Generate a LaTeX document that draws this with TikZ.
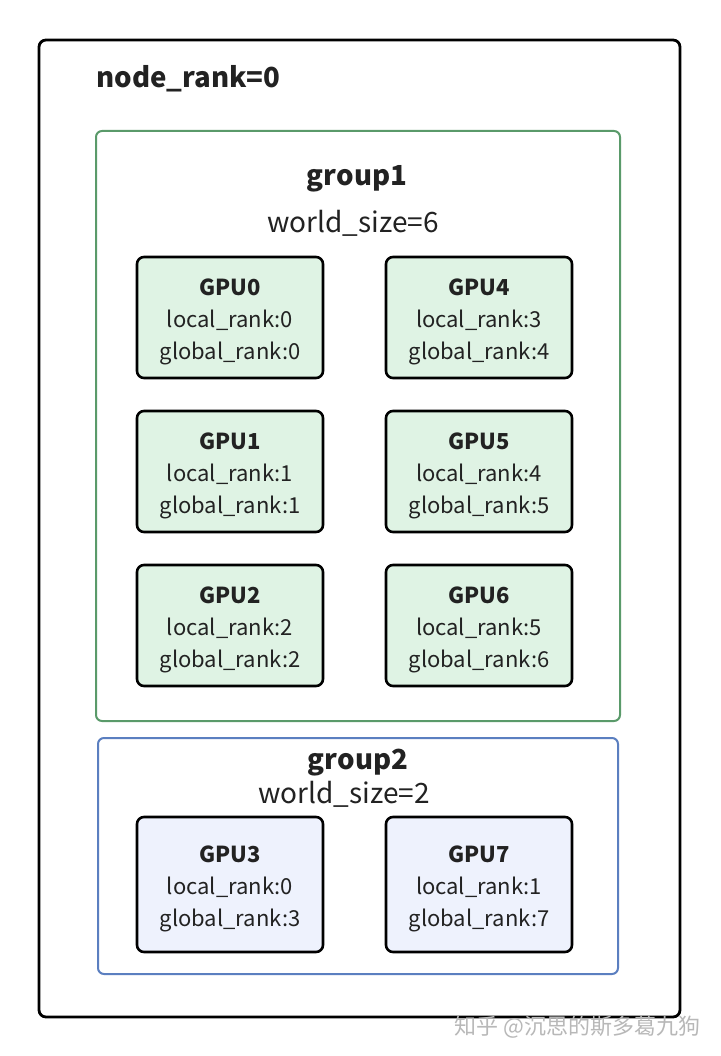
\documentclass[tikz,border=0pt]{standalone}
\usepackage{fontspec}
\setmainfont{Noto Sans CJK SC}
\usetikzlibrary{positioning}
\definecolor{txt}{HTML}{222222}
\definecolor{gline}{HTML}{5A9A6A}
\definecolor{gfill}{HTML}{DFF3E4}
\definecolor{bline}{HTML}{5B7FC0}
\definecolor{bfill}{HTML}{EEF2FD}
\tikzset{
  outerbox/.style={draw=black, line width=2.8pt, rounded corners=7pt},
  grpbox/.style={line width=2pt, rounded corners=6pt},
  gpubox/.style={draw=black, line width=2.6pt, rounded corners=7pt},
  gputext/.style={text=txt, align=center, font=\fontsize{22}{32}\selectfont},
  titletext/.style={text=txt, font=\fontsize{27.6}{30}\selectfont\bfseries},
  wstext/.style={text=txt, font=\fontsize{28}{32}\selectfont},
}
\begin{document}
\begin{tikzpicture}[x=1pt,y=-1pt]
\useasboundingbox (0,0) rectangle (720,1056);
\fill[white] (0,0) rectangle (720,1056);
% outer box
\draw[outerbox] (39,40) rectangle (680,1017);
\node[titletext, anchor=west] (nr) at (93,78.5) {node\_rank=0};
% group1
\draw[grpbox, draw=gline] (96,131) rectangle (620,721);
\node[titletext] (g1) at (357,179) {group1};
\node[wstext] (ws1) at (353,223) {world\_size=6};
% GPU boxes
\newcommand{\gpu}[7]{%
  \draw[gpubox, fill=#6] (#1-93,#2-#7) rectangle (#1+93,#2+#7);
  \node[gputext] (#3) at (#1,#2+4.5) {\textbf{#3}\\local\_rank:#4\\global\_rank:#5};
}
\gpu{230}{317.5}{GPU0}{0}{0}{gfill}{60.5}
\gpu{230}{471.5}{GPU1}{1}{1}{gfill}{60.5}
\gpu{230}{625.5}{GPU2}{2}{2}{gfill}{60.5}
\gpu{479}{317.5}{GPU4}{3}{4}{gfill}{60.5}
\gpu{479}{471.5}{GPU5}{4}{5}{gfill}{60.5}
\gpu{479}{625.5}{GPU6}{5}{6}{gfill}{60.5}
% group2
\draw[grpbox, draw=bline] (98,738) rectangle (618,974);
\node[titletext] (g2) at (358,763) {group2};
\node[wstext] (ws2) at (344,794) {world\_size=2};
\gpu{230}{884.5}{GPU3}{0}{3}{bfill}{67.5}
\gpu{479}{884.5}{GPU7}{1}{7}{bfill}{67.5}
% watermark
\node[text=black!28, font=\fontsize{22}{26}\selectfont, anchor=east] (wm) at (704,1027) {知乎 @沉思的斯多葛九狗};
\end{tikzpicture}
\end{document}
